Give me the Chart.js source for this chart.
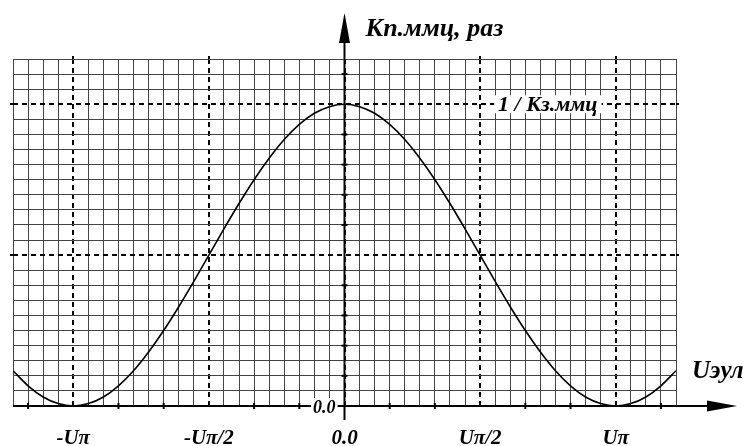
<!DOCTYPE html>
<html lang="ru">
  <head>
    <meta charset="UTF-8" />
    <title>Кп.ммц</title>
    <style>
      html, body { margin: 0; padding: 0; background: #fff; }
    </style>
  </head>
  <body>
    <canvas id="myChart" width="747" height="446"></canvas>
    <script src="https://cdn.jsdelivr.net/npm/chart.js@4.4.1/dist/chart.umd.min.js"></script>
    <script>
      // фаза Uэул в градусах, шаг 10° (одна клетка сетки)
      const phase = [
        -220, -210, -200, -190, -180, -170, -160, -150, -140, -130, -120,
        -110, -100, -90, -80, -70, -60, -50, -40, -30, -20, -10, 0,
        10, 20, 30, 40, 50, 60, 70, 80, 90, 100, 110,
        120, 130, 140, 150, 160, 170, 180, 190, 200, 210, 220,
      ];
      // Кп.ммц, доли от 1/Кз.ммц
      const kp = [
        0.117, 0.067, 0.030, 0.008, 0.000, 0.008, 0.030, 0.067, 0.117, 0.179, 0.250,
        0.329, 0.413, 0.500, 0.587, 0.671, 0.750, 0.821, 0.883, 0.933, 0.970, 0.992, 1.000,
        0.992, 0.970, 0.933, 0.883, 0.821, 0.750, 0.671, 0.587, 0.500, 0.413, 0.329,
        0.250, 0.179, 0.117, 0.067, 0.030, 0.008, 0.000, 0.008, 0.030, 0.067, 0.117,
      ];
      const xTickValues = [-180, -90, 0, 90, 180];
      const xTickLabels = ["-Uπ", "-Uπ/2", "0.0", "Uπ/2", "Uπ"];
      const xAxisMarks = [-210, -150, -120, -60, -30, 30, 60, 120, 150, 210];
      const yAxisMarks = [0.1, 0.2, 0.3, 0.4, 0.6, 0.7, 0.8, 0.9, 1.1];
      const xDashed = [-180, -90, 90, 180];
      const yDashed = [0.5, 1];

      const serif = "'Liberation Serif', 'Times New Roman', serif";
      const isMajor = (v, step) => Math.abs(v / step - Math.round(v / step)) < 1e-6;

      const axesPlugin = {
        id: "axesPlugin",
        afterDatasetsDraw(chart) {
          const { ctx, chartArea, scales } = chart;
          const x0 = scales.x.getPixelForValue(0);
          const y0 = scales.y.getPixelForValue(0);
          const y1 = scales.y.getPixelForValue(1);
          const x90 = scales.x.getPixelForValue(90);
          ctx.save();
          ctx.strokeStyle = "#000";
          ctx.fillStyle = "#000";
          ctx.lineWidth = 2;

          // пунктир чуть выходит за сетку
          ctx.setLineDash([3, 3]);
          xDashed.forEach((v) => {
            const px = Math.round(scales.x.getPixelForValue(v));
            ctx.beginPath();
            ctx.moveTo(px, chartArea.top);
            ctx.lineTo(px, chartArea.top - 4);
            ctx.stroke();
          });
          yDashed.forEach((v) => {
            const py = Math.round(scales.y.getPixelForValue(v));
            ctx.beginPath();
            ctx.moveTo(chartArea.left - 3, py);
            ctx.lineTo(chartArea.left, py);
            ctx.moveTo(chartArea.right, py);
            ctx.lineTo(chartArea.right + 4, py);
            ctx.stroke();
          });
          ctx.setLineDash([]);

          // ось X со стрелкой
          ctx.beginPath();
          ctx.moveTo(chartArea.left, y0);
          ctx.lineTo(chartArea.right + 35, y0);
          ctx.stroke();
          ctx.beginPath();
          ctx.moveTo(chartArea.right + 61, y0);
          ctx.lineTo(chartArea.right + 31, y0 - 5.5);
          ctx.lineTo(chartArea.right + 31, y0 + 5.5);
          ctx.closePath();
          ctx.fill();

          // ось Y со стрелкой
          ctx.beginPath();
          ctx.moveTo(x0, y0 + 14);
          ctx.lineTo(x0, 40);
          ctx.stroke();
          ctx.beginPath();
          ctx.moveTo(x0, 13);
          ctx.lineTo(x0 - 5.5, 43);
          ctx.lineTo(x0 + 5.5, 43);
          ctx.closePath();
          ctx.fill();

          // засечки
          xAxisMarks.forEach((v) => {
            const px = scales.x.getPixelForValue(v);
            ctx.beginPath();
            ctx.moveTo(px, y0 - 3);
            ctx.lineTo(px, y0 + 3);
            ctx.stroke();
          });
          yAxisMarks.forEach((v) => {
            const py = scales.y.getPixelForValue(v);
            ctx.beginPath();
            ctx.moveTo(x0 - 3, py);
            ctx.lineTo(x0 + 3, py);
            ctx.stroke();
          });

          // подписи оси X
          ctx.font = "italic bold 21px " + serif;
          ctx.textAlign = "center";
          ctx.textBaseline = "alphabetic";
          xTickValues.forEach((v, i) => {
            ctx.fillText(xTickLabels[i], scales.x.getPixelForValue(v), y0 + 38);
          });

          // 0.0 на оси Y
          ctx.font = "italic bold 18px " + serif;
          ctx.textAlign = "right";
          let w = ctx.measureText("0.0").width;
          ctx.fillStyle = "#fff";
          ctx.fillRect(x0 - 9 - w - 2, y0 - 8, w + 4, 16);
          ctx.fillStyle = "#000";
          ctx.fillText("0.0", x0 - 9, y0 + 7);

          ctx.font = "italic bold 22px " + serif;
          ctx.textAlign = "left";
          w = ctx.measureText("1 / Кз.ммц").width;
          ctx.fillStyle = "#fff";
          ctx.fillRect(x90 + 14, y1 - 9, w + 8, 18);
          ctx.fillStyle = "#000";
          ctx.fillText("1 / Кз.ммц", x90 + 18, y1 + 7);

          ctx.font = "italic bold 26px " + serif;
          ctx.fillText("Кп.ммц, раз", x0 + 21, 36);

          ctx.font = "italic bold 25px " + serif;
          ctx.fillText("Uэул", chartArea.right + 16, y0 - 28);
          ctx.restore();
        },
      };

      const ctx = document.getElementById("myChart").getContext("2d");
      new Chart(ctx, {
        type: "line",
        data: {
          labels: phase,
          datasets: [
            {
              data: phase.map((p, i) => ({ x: p, y: kp[i] })),
              borderColor: "#000",
              borderWidth: 1.6,
              pointRadius: 0,
              cubicInterpolationMode: "monotone",
              fill: false,
            },
          ],
        },
        options: {
          responsive: false,
          animation: false,
          events: [],
          layout: { padding: { left: 13, right: 71, top: 59, bottom: 40 } },
          plugins: { legend: { display: false }, tooltip: { enabled: false } },
          scales: {
            x: {
              type: "linear",
              min: -220,
              max: 220,
              border: {
                display: false,
                dash: (c) => (isMajor(c.tick.value, 90) ? [5, 4] : []),
              },
              grid: {
                drawTicks: false,
                color: (c) => (isMajor(c.tick.value, 90) ? "#000" : "#444"),
                lineWidth: (c) => (isMajor(c.tick.value, 90) ? 2 : 1),
              },
              ticks: { display: false, stepSize: 10 },
            },
            y: {
              min: 0,
              max: 1.15,
              border: {
                display: false,
                dash: (c) => (isMajor(c.tick.value, 0.5) ? [5, 4] : []),
              },
              grid: {
                drawTicks: false,
                color: (c) => (isMajor(c.tick.value, 0.5) ? "#000" : "#444"),
                lineWidth: (c) => (isMajor(c.tick.value, 0.5) ? 2 : 1),
              },
              ticks: { display: false, stepSize: 0.05 },
            },
          },
        },
        plugins: [axesPlugin],
      });
    </script>
  </body>
</html>
